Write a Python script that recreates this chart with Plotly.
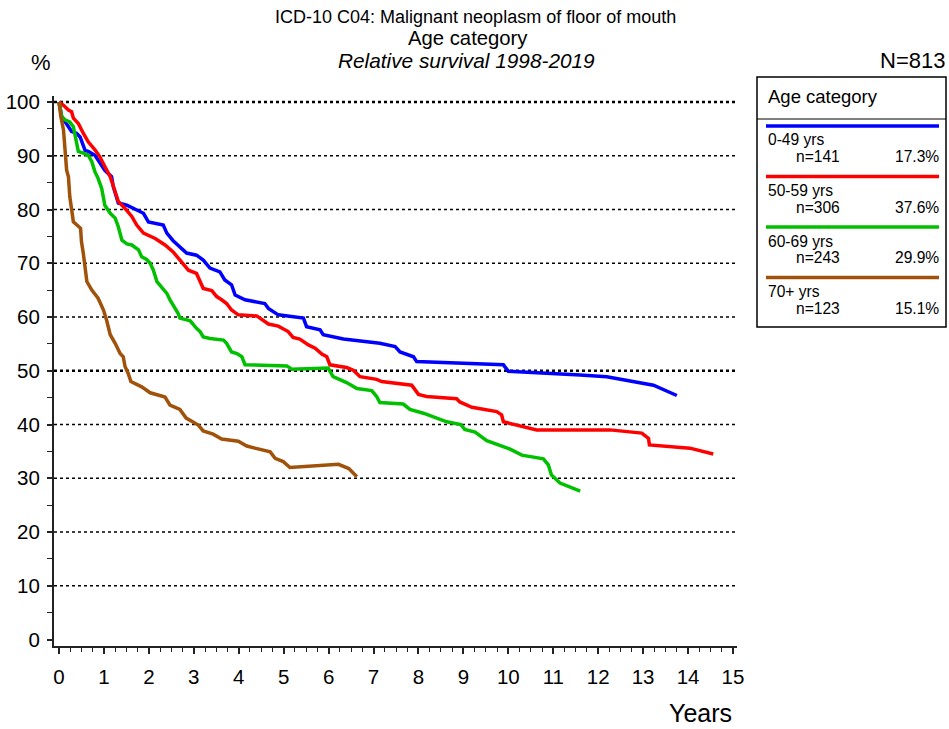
import plotly.graph_objects as go

# Relative survival curves by age category (years since diagnosis, % survival)
t_049 = [0, 0.06, 0.28, 0.39, 0.47, 0.54, 0.58, 0.65, 0.80, 1.02, 1.17, 1.21, 1.32, 1.51, 1.65,
         1.88, 1.99, 2.32, 2.40, 2.54, 2.84, 3.06, 3.21, 3.36, 3.58, 3.69, 3.84, 3.92, 4.14,
         4.58, 4.66, 4.88, 5.44, 5.51, 5.81, 5.88, 6.33, 7.14, 7.48, 7.59, 7.89, 7.96, 9.89,
         10.0, 11.6, 12.19, 13.23, 13.75]
s_049 = [100, 97.3, 94.5, 94.2, 93.5, 92.0, 91.0, 90.8, 90.1, 87.3, 86.1, 84.2, 81.2, 80.8, 80.2,
         79.3, 77.7, 77.1, 75.6, 74.2, 71.9, 71.5, 70.6, 69.1, 68.4, 66.9, 66.0, 64.1, 63.2,
         62.5, 61.6, 60.4, 59.8, 58.2, 57.6, 56.7, 55.9, 55.1, 54.5, 53.5, 52.6, 51.7, 51.1,
         49.9, 49.2, 48.9, 47.3, 45.4]

t_5059 = [0, 0.10, 0.21, 0.28, 0.32, 0.43, 0.54, 0.65, 0.80, 0.91, 1.02, 1.14, 1.25, 1.32, 1.47,
          1.62, 1.73, 1.88, 2.14, 2.36, 2.54, 2.73, 2.88, 3.06, 3.21, 3.40, 3.51, 3.62, 3.73,
          3.84, 3.99, 4.40, 4.66, 4.88, 5.10, 5.21, 5.36, 5.55, 5.70, 5.85, 5.96, 6.03, 6.40,
          6.55, 6.70, 7.07, 7.18, 7.85, 8.00, 8.18, 8.85, 8.92, 9.19, 9.74, 9.85, 9.89, 10.33,
          10.63, 12.26, 12.97, 13.12, 13.14, 14.04, 14.56]
s_5059 = [100, 99.4, 98.5, 98.2, 97.0, 96.0, 94.2, 92.6, 91.1, 89.8, 88.0, 86.1, 83.3, 81.5, 80.2,
          78.7, 77.1, 75.6, 74.6, 73.4, 72.1, 70.3, 68.7, 68.1, 65.3, 64.9, 63.8, 63.2, 62.5,
          61.3, 60.4, 60.2, 58.7, 58.3, 57.3, 56.2, 55.9, 54.8, 54.2, 53.1, 52.6, 51.1, 50.6,
          50.1, 48.9, 48.4, 48.0, 47.3, 45.6, 45.2, 44.8, 44.2, 43.2, 42.4, 41.8, 40.5, 39.7,
          39.0, 39.0, 38.4, 37.4, 36.2, 35.6, 34.5]

t_6069 = [0, 0.06, 0.13, 0.24, 0.32, 0.39, 0.43, 0.54, 0.65, 0.73, 0.80, 0.87, 0.95, 1.02, 1.14,
          1.25, 1.32, 1.40, 1.51, 1.62, 1.77, 1.84, 1.95, 2.03, 2.10, 2.18, 2.32, 2.40, 2.47,
          2.54, 2.65, 2.69, 2.92, 3.06, 3.14, 3.21, 3.36, 3.66, 3.73, 3.84, 3.96, 4.07, 4.14,
          5.07, 5.18, 5.99, 6.10, 6.40, 6.63, 6.96, 7.07, 7.14, 7.66, 7.81, 8.11, 8.63, 8.94,
          9.03, 9.26, 9.52, 10.04, 10.30, 10.78, 10.89, 10.96, 11.15, 11.60]
s_6069 = [100, 97.3, 96.7, 96.3, 95.4, 92.3, 90.8, 90.5, 90.1, 88.9, 87.0, 85.8, 83.9, 80.8, 79.3,
          78.4, 76.8, 74.3, 73.6, 73.4, 72.5, 71.2, 70.7, 70.0, 68.7, 66.6, 65.3, 64.4, 63.2,
          62.2, 60.7, 59.8, 59.3, 57.9, 57.3, 56.3, 56.0, 55.7, 55.1, 53.5, 53.2, 52.6, 51.1,
          50.9, 50.3, 50.5, 48.9, 47.8, 46.7, 46.3, 45.2, 44.1, 43.8, 42.8, 42.1, 40.5, 40.0,
          39.1, 38.6, 37.0, 35.4, 34.3, 33.6, 32.5, 30.6, 29.1, 27.6]

t_70p = [0, 0.04, 0.10, 0.13, 0.17, 0.21, 0.24, 0.32, 0.39, 0.48, 0.50, 0.54, 0.62, 0.73, 0.87,
         0.99, 1.06, 1.14, 1.25, 1.36, 1.43, 1.47, 1.54, 1.60, 1.84, 2.03, 2.36, 2.47, 2.69,
         2.83, 3.10, 3.21, 3.43, 3.62, 3.99, 4.18, 4.36, 4.70, 4.81, 4.99, 5.14, 6.22, 6.45,
         6.63]
s_70p = [100, 97.3, 94.8, 91.1, 87.3, 86.1, 82.4, 77.7, 77.1, 76.5, 74.0, 71.9, 66.6, 65.0, 63.5,
         61.3, 59.4, 56.7, 55.1, 53.2, 52.6, 50.8, 49.5, 48.0, 47.0, 45.9, 45.1, 43.6, 42.8,
         41.2, 39.9, 38.8, 38.2, 37.3, 36.9, 36.0, 35.6, 34.9, 33.7, 33.1, 32.0, 32.6, 31.8,
         30.3]

groups = ["0-49 yrs", "50-59 yrs", "60-69 yrs", "70+ yrs"]
counts = [141, 306, 243, 123]
shares = ["17.3%", "37.6%", "29.9%", "15.1%"]
colors = ["#0000ff", "#ff0000", "#00c000", "#a0520a"]
series_t = [t_049, t_5059, t_6069, t_70p]
series_s = [s_049, s_5059, s_6069, s_70p]

y_ticks = list(range(0, 101, 10))
x_ticks = list(range(0, 16))

FONT = "Liberation Sans, Arial, sans-serif"
W, H = 949, 729
L, R, T, B = 54, 212, 96, 83
PW, PH = W - L - R, H - T - B


def px(x):
    return (x - L) / PW


def py(y):
    return (H - B - y) / PH


fig = go.Figure()
for t, s, c, g in zip(series_t, series_s, colors, groups):
    fig.add_trace(go.Scatter(x=t, y=s, mode="lines", name=g,
                             line=dict(color=c, width=3.5), showlegend=False,
                             hoverinfo="skip"))

# dotted reference lines (100% and 50% drawn heavier)
shapes = []
for v in y_ticks[1:]:
    heavy = v in (50, 100)
    shapes.append(dict(type="line", xref="paper", yref="y", x0=0.0, x1=1.0, y0=v, y1=v,
                       line=dict(color="black", width=2.5 if heavy else 1.3, dash="dot"),
                       layer="below"))

# legend panel
shapes.append(dict(type="rect", xref="paper", yref="paper", x0=px(757), x1=px(946),
                   y0=py(327), y1=py(77), line=dict(color="black", width=1.5)))
shapes.append(dict(type="line", xref="paper", yref="paper", x0=px(757), x1=px(946),
                   y0=py(119), y1=py(119), line=dict(color="black", width=1)))
ann = []
ann.append(dict(text="Age category", x=px(766), y=py(96), xref="paper", yref="paper",
                xanchor="left", yanchor="middle", showarrow=False,
                font=dict(size=18.5, color="black", family=FONT)))
for i, (g, n, sh, c) in enumerate(zip(groups, counts, shares, colors)):
    yl = 126 + 50.5 * i
    shapes.append(dict(type="line", xref="paper", yref="paper", x0=px(766), x1=px(939),
                       y0=py(yl), y1=py(yl), line=dict(color=c, width=3.5)))
    ann.append(dict(text=g, x=px(766), y=py(yl + 14), xref="paper", yref="paper",
                    xanchor="left", yanchor="middle", showarrow=False,
                    font=dict(size=15.6, color="black", family=FONT)))
    ann.append(dict(text=f"n={n}", x=px(794), y=py(yl + 30.5), xref="paper", yref="paper",
                    xanchor="left", yanchor="middle", showarrow=False,
                    font=dict(size=15.6, color="black", family=FONT)))
    ann.append(dict(text=sh, x=px(941), y=py(yl + 30.5), xref="paper", yref="paper",
                    xanchor="right", yanchor="middle", showarrow=False,
                    font=dict(size=15.6, color="black", family=FONT)))

# titles and axis captions
ann.append(dict(text="ICD-10 C04: Malignant neoplasm of floor of mouth", x=px(475), y=py(16.5),
                xref="paper", yref="paper", xanchor="center", yanchor="middle",
                showarrow=False, font=dict(size=18, color="black", family=FONT)))
ann.append(dict(text="Age category", x=px(468), y=py(38), xref="paper", yref="paper",
                xanchor="center", yanchor="middle", showarrow=False,
                font=dict(size=20.3, color="black", family=FONT)))
ann.append(dict(text="<i>Relative survival 1998-2019</i>", x=px(466), y=py(60.5), xref="paper",
                yref="paper", xanchor="center", yanchor="middle", showarrow=False,
                font=dict(size=20.8, color="black", family=FONT)))
ann.append(dict(text="N=813", x=px(947), y=py(61), xref="paper", yref="paper",
                xanchor="right", yanchor="middle", showarrow=False,
                font=dict(size=22, color="black", family=FONT)))
ann.append(dict(text="%", x=px(41), y=py(63), xref="paper", yref="paper",
                xanchor="center", yanchor="middle", showarrow=False,
                font=dict(size=22, color="black", family=FONT)))
ann.append(dict(text="Years", x=px(700), y=py(713), xref="paper", yref="paper",
                xanchor="center", yanchor="middle", showarrow=False,
                font=dict(size=25, color="black", family=FONT)))

x0_px = 59
per_year = (733 - 59) / 15
x_lo = -(x0_px - L) / per_year
x_hi = x_lo + PW / per_year
y_per = (639.5 - 102) / 100
y_lo = -(H - B - 639.5) / y_per
y_hi = 100 + (102 - T) / y_per

fig.update_layout(
    width=W, height=H,
    margin=dict(l=L, r=R, t=T, b=B, pad=0, autoexpand=False),
    paper_bgcolor="white", plot_bgcolor="white",
    shapes=shapes, annotations=ann,
    font=dict(family=FONT, color="black"),
    xaxis=dict(range=[x_lo, x_hi], tickvals=x_ticks, ticktext=[str(v) for v in x_ticks],
               showgrid=False, zeroline=False, showline=True, linecolor="#222",
               linewidth=2, ticks="outside", ticklen=6, tickwidth=1.5, tickcolor="#222",
               tickfont=dict(size=20.5, family=FONT, color="black"), ticklabelstandoff=5,
               minor=dict(tickvals=[i * 0.25 for i in range(61)], ticks="outside",
                          ticklen=4, tickwidth=1.2, tickcolor="#222"),
               automargin=False, fixedrange=True),
    yaxis=dict(range=[y_lo, y_hi], tickvals=y_ticks, ticktext=[str(v) for v in y_ticks],
               showgrid=False, zeroline=False, showline=True, linecolor="#222",
               linewidth=2, ticks="outside", ticklen=5, tickwidth=1.5, tickcolor="#222",
               tickfont=dict(size=20.5, family=FONT, color="black"), ticklabelstandoff=3,
               minor=dict(tickvals=[5 + 10 * i for i in range(10)], ticks="outside",
                          ticklen=5, tickwidth=1.2, tickcolor="#222"),
               automargin=False, fixedrange=True),
)

fig.write_html("out.html")
